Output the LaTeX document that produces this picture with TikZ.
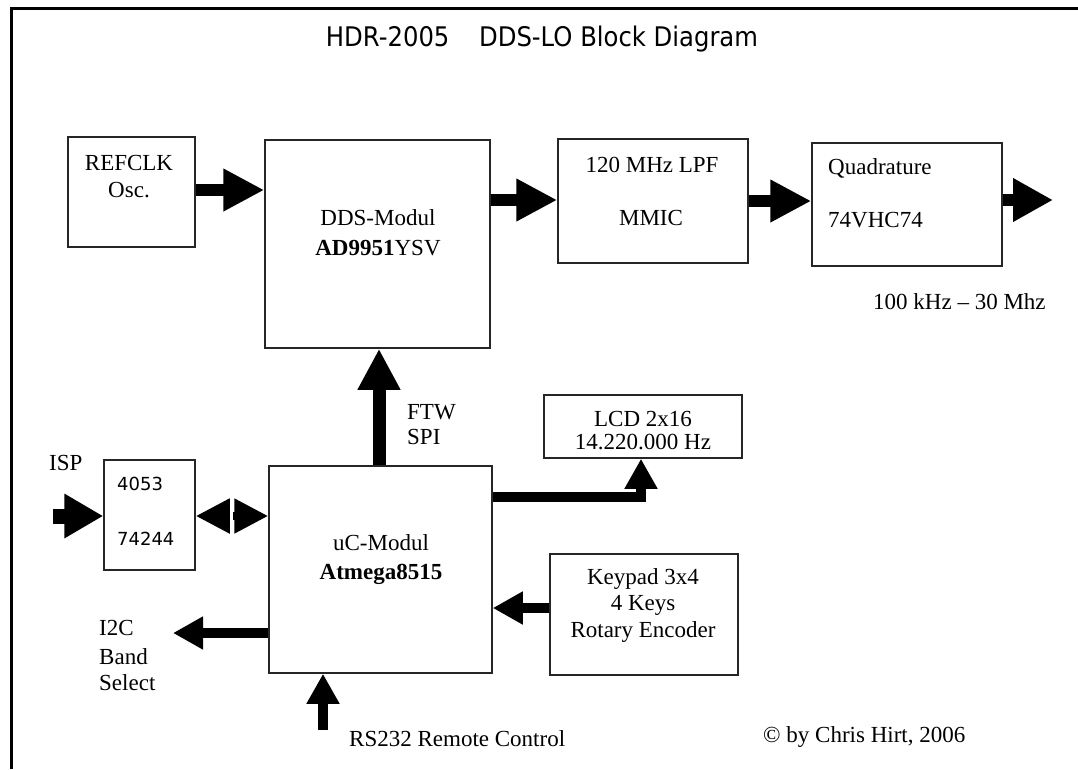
\documentclass[tikz,border=0pt]{standalone}
\usepackage{graphicx}
\usepackage{fontspec}
\setmainfont{Liberation Serif}
\newfontfamily\titlefont{DejaVu Sans}
\usetikzlibrary{arrows.meta}
\begin{document}
\begin{tikzpicture}[x=1pt,y=-1pt,
  box/.style={draw=black!85, line width=1.5pt, inner sep=0pt, fill=white},
  txt/.style={inner sep=0pt, anchor=base, font=\fontsize{23}{27}\selectfont},
  ltxt/.style={txt, anchor=base west},
  stxt/.style={inner sep=0pt, anchor=base west, font=\titlefont\fontsize{18}{21}\selectfont},
  arrA/.style={line width=12pt, -{Triangle[length=41pt,width=40pt]}},
  arrB/.style={line width=10pt, -{Triangle[length=30pt,width=31pt]}},
  arrBi/.style={line width=8pt, -{Triangle[length=34pt,width=33pt]}}]
\useasboundingbox (0,0) rectangle (1078,769);
\fill[white] (0,0) rectangle (1078,769);
\draw[line width=3pt] (11.5,769) -- (11.5,8.7) -- (1078,8.7);

% title
\node[inner sep=0pt, anchor=base] (title) at (542,46)
  {\scalebox{0.9}[1]{\titlefont\fontsize{27}{30}\selectfont HDR-2005\hspace{33pt}DDS-LO Block Diagram}};

% boxes
\node[box, minimum width=127pt, minimum height=110pt] (refclk) at (131.5,192) {};
\node[box, minimum width=225pt, minimum height=208pt] (dds) at (377.5,244) {};
\node[box, minimum width=190pt, minimum height=124pt] (lpf) at (653,201) {};
\node[box, minimum width=190pt, minimum height=123pt] (quad) at (907,204.5) {};
\node[box, minimum width=198pt, minimum height=63pt] (lcd) at (643,426.5) {};
\node[box, minimum width=91pt, minimum height=110pt] (mux) at (149.5,515) {};
\node[box, minimum width=223pt, minimum height=207pt] (uc) at (380.5,569.5) {};
\node[box, minimum width=188pt, minimum height=121pt] (keypad) at (644,614.5) {};

% texts in boxes
\node[txt] (t1) at (129,170) {REFCLK};
\node[txt] (t2) at (129,197) {Osc.};
\node[txt] (t3) at (378,225) {DDS-Modul};
\node[txt] (t4) at (378,255) {\textbf{AD9951}YSV};
\node[txt] (t5) at (652,172) {120 MHz LPF};
\node[txt] (t6) at (651,225) {MMIC};
\node[ltxt] (t7) at (828,174) {Quadrature};
\node[ltxt] (t8) at (828,227) {74VHC74};
\node[txt] (t9) at (643,426) {LCD 2x16};
\node[txt] (t10) at (643,449) {14.220.000 Hz};
\node[stxt] (t11) at (117,490) {4053};
\node[stxt] (t12) at (117,545) {74244};
\node[txt] (t13) at (381,550) {uC-Modul};
\node[txt] (t14) at (381,579) {\textbf{Atmega8515}};
\node[txt] (t15) at (643,584) {Keypad 3x4};
\node[txt] (t16) at (643,610) {4 Keys};
\node[txt] (t17) at (643,637) {Rotary Encoder};

% free labels
\node[ltxt] (l1) at (873,309) {100 kHz -- 30 Mhz};
\node[ltxt] (l2) at (407,419) {FTW};
\node[ltxt] (l3) at (407,444) {SPI};
\node[ltxt] (l4) at (49,470) {ISP};
\node[ltxt] (l5) at (99,635) {I2C};
\node[ltxt] (l6) at (99,664) {Band};
\node[ltxt] (l7) at (99,690) {Select};
\node[ltxt] (l8) at (349,746) {RS232 Remote Control};
\node[ltxt] (l9) at (763,742) {\textcopyright{} by Chris Hirt, 2006};

% connectors
\draw[arrA] (refclk.east |- 0,190) -- (dds.west |- 0,190);
\draw[arrA] (dds.east |- 0,200) -- (lpf.west |- 0,200);
\draw[arrA] (lpf.east |- 0,201) -- (quad.west |- 0,201);
\coordinate (out) at (1053,200);
\draw[arrA, -{Triangle[length=40pt,width=41pt]}] (quad.east |- 0,200) -- (out);
\draw[arrA, line width=13pt] (uc.north -| 379,0) -- (dds.south -| 379,0);
\draw[arrB] (uc.east |- 0,497) -| (lcd.south -| 641,0);
\draw[arrB] (keypad.west |- 0,608) -- (uc.east |- 0,608);
\coordinate (i2cend) at (173,633);
\draw[arrB] (uc.west |- 0,633) -- (i2cend);
\coordinate (rsstart) at (323,730);
\draw[arrB] (rsstart) -- (uc.south -| 323,0);
\coordinate (ispstart) at (53,516);
\draw[line width=15pt, -{Triangle[length=39pt,width=42pt]}] (ispstart) -- (mux.west |- 0,516);
\coordinate (bimid) at (231.5,516);
\draw[arrBi] ([xshift=-1.5pt]bimid) -- (mux.east |- 0,516);
\draw[arrBi] ([xshift=1.5pt]bimid) -- (uc.west |- 0,516);
\end{tikzpicture}
\end{document}
